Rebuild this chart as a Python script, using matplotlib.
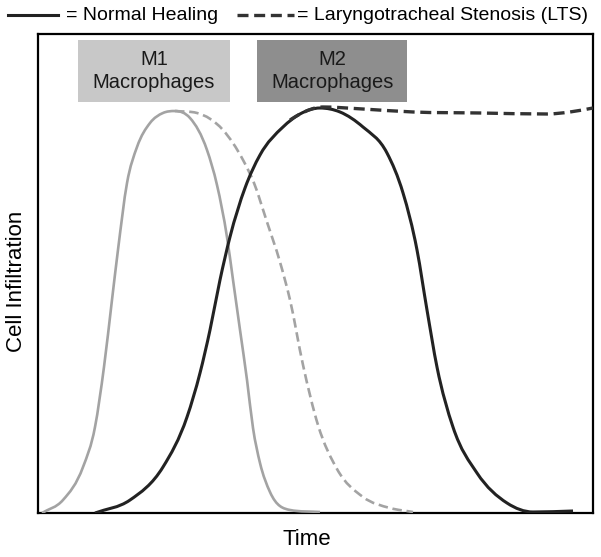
import matplotlib
matplotlib.use("Agg")
import numpy as np
import matplotlib.pyplot as plt
from matplotlib.lines import Line2D
from matplotlib.patches import Rectangle, PathPatch
from matplotlib.path import Path

plt.rcParams['font.family'] = ['Liberation Sans', 'DejaVu Sans']

# Conceptual curves (time in arbitrary units 0-100, infiltration 0-100)
m1_normal_t = [0.72, 4.50, 8.11, 10.27, 11.89, 13.33, 14.41, 16.04, 17.84, 20.18, 22.52,
               24.68, 27.39, 30.45, 32.25, 34.05, 35.14, 36.40, 37.66, 38.74, 40.00,
               41.80, 45.41, 50.81]
m1_normal_y = [0.0, 2.71, 9.60, 17.95, 30.48, 44.47, 54.91, 68.89, 76.41, 81.42, 83.51,
               83.92, 82.46, 75.78, 68.48, 57.62, 48.64, 38.20, 27.77, 17.75, 10.44,
               4.38, 0.63, 0.21]

m1_lts_t = [24.68, 28.65, 33.33, 36.94, 38.92, 41.26, 43.60, 45.41, 47.75, 50.45,
            53.87, 58.56, 63.42, 67.57]
m1_lts_y = [83.92, 83.51, 79.96, 73.70, 68.89, 60.75, 52.40, 44.47, 30.90, 18.37,
            9.19, 3.34, 1.04, 0.21]

m2_normal_t = [10.27, 16.58, 22.52, 26.85, 29.19, 30.99, 32.79, 34.59, 37.30, 40.00,
               44.14, 47.21, 50.81, 54.41, 58.56, 62.88, 65.77, 68.29, 70.09, 71.89,
               74.77, 79.10, 84.50, 89.19, 96.40]
m2_normal_y = [0.0, 2.71, 9.60, 20.04, 29.23, 38.20, 48.64, 57.62, 67.85, 74.74,
               80.58, 83.30, 84.55, 83.72, 80.58, 75.16, 66.81, 54.91, 42.38, 30.48,
               17.95, 8.35, 2.09, 0.21, 0.42]

m2_lts_t = [45.41, 47.21, 51.35, 58.56, 67.57, 79.64, 91.71, 95.86, 100.0]
m2_lts_y = [82.05, 83.30, 84.76, 84.34, 83.72, 83.51, 83.30, 83.72, 84.55]

box_labels = ["M1\nMacrophages", "M2\nMacrophages"]
legend_labels = ["= Normal Healing", "= Laryngotracheal Stenosis (LTS)"]
xlabel = "Time"
ylabel = "Cell Infiltration"


def smooth_path(xs, ys):
    """Cubic Bezier path through the given points (limited 3-point tangents)."""
    x = np.asarray(xs, float)
    y = np.asarray(ys, float)
    h = np.diff(x)
    d = np.diff(y) / h
    m = np.zeros_like(x)
    m[0], m[-1] = d[0], d[-1]
    for i in range(1, len(x) - 1):
        if d[i - 1] * d[i] <= 0:
            m[i] = 0.0
        else:
            p = (d[i - 1] * h[i] + d[i] * h[i - 1]) / (h[i - 1] + h[i])
            lim = 3 * min(abs(d[i - 1]), abs(d[i]))
            m[i] = np.sign(p) * min(abs(p), lim)
    verts = [(x[0], y[0])]
    codes = [Path.MOVETO]
    for i in range(len(x) - 1):
        verts += [(x[i] + h[i] / 3, y[i] + m[i] * h[i] / 3),
                  (x[i + 1] - h[i] / 3, y[i + 1] - m[i + 1] * h[i] / 3),
                  (x[i + 1], y[i + 1])]
        codes += [Path.CURVE4] * 3
    return Path(verts, codes)


W, H = 601, 557
fig = plt.figure(figsize=(W / 100, H / 100), dpi=100)
ax = fig.add_axes([38 / W, 1 - 513 / H, (593 - 38) / W, (513 - 34) / H])

gray = '#a3a3a3'
dark = '#222222'

curves = [
    (m1_normal_t, m1_normal_y, dict(edgecolor=gray, lw=1.9, zorder=3)),
    (m1_lts_t, m1_lts_y, dict(edgecolor=gray, lw=1.9, ls=(0, (3.6, 1.8)), zorder=3)),
    (m2_normal_t, m2_normal_y, dict(edgecolor=dark, lw=2.2, zorder=4)),
    (m2_lts_t, m2_lts_y, dict(edgecolor='#333333', lw=2.4, ls=(0, (3.3, 1.7)), zorder=5)),
]
for t, y, kw in curves:
    ax.add_patch(PathPatch(smooth_path(t, y), facecolor='none', capstyle='butt', **kw))

ax.set_xlim(0, 100)
ax.set_ylim(0, 100)
ax.set_xticks([])
ax.set_yticks([])
for s in ax.spines.values():
    s.set_linewidth(1.6)
    s.set_color('black')

# label boxes (axes coordinates)
boxes = [((0.072, 0.858), 0.274, 0.13, '#c8c8c8'),
         ((0.395, 0.858), 0.270, 0.13, '#8e8e8e')]
for (xy, w, h, c), lab in zip(boxes, box_labels):
    ax.add_patch(Rectangle(xy, w, h, transform=ax.transAxes, facecolor=c,
                           edgecolor='none', zorder=2))
    ax.text(xy[0] + w / 2, xy[1] + h / 2, lab, transform=ax.transAxes,
            ha='center', va='center', fontsize=14.5, color='#1a1a1a',
            linespacing=1.3, zorder=6)

ax.set_xlabel(xlabel, fontsize=16)
ax.set_ylabel(ylabel, fontsize=16)
ax.xaxis.set_label_coords(0.485, -0.056)
ax.xaxis.label.set_va('center')
ax.yaxis.set_label_coords(-0.038, 0.484)
ax.yaxis.label.set_va('center')

# legend along top
ly = 1 - 15 / H
fig.add_artist(Line2D([8 / W, 58 / W], [ly, ly], color=dark, lw=2.2,
                      transform=fig.transFigure))
fig.text(66 / W, ly, legend_labels[0], fontsize=14, va='center', ha='left')
fig.add_artist(Line2D([237 / W, 294 / W], [ly, ly], color='#333333', lw=2.4,
                      ls=(0, (3.3, 1.7)), transform=fig.transFigure))
fig.text(297 / W, ly, legend_labels[1], fontsize=14, va='center', ha='left')

fig.savefig('out.png', dpi=100)
